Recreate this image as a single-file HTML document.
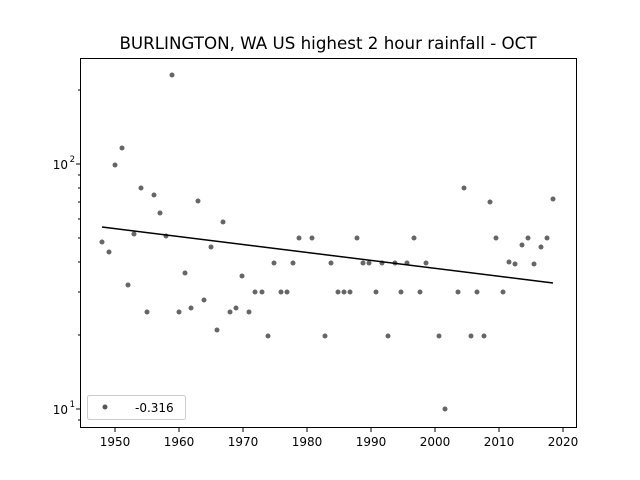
<!DOCTYPE html>
<html><head><meta charset="utf-8"><style>body{margin:0;background:#fff}svg{display:block}text{font-family:"DejaVu Sans","Liberation Sans",sans-serif}</style></head><body>
<svg width="640" height="480" viewBox="0 0 640 480" xmlns="http://www.w3.org/2000/svg">
<rect width="640" height="480" fill="#fff"/>
<text x="328" y="49" font-size="16.7" text-anchor="middle">BURLINGTON, WA US highest 2 hour rainfall - OCT</text>
<g fill="#555" fill-opacity="0.9">
<circle cx="102" cy="242" r="2.5"/><circle cx="109" cy="252" r="2.5"/><circle cx="115" cy="165" r="2.5"/><circle cx="122" cy="148" r="2.5"/><circle cx="128" cy="285" r="2.5"/><circle cx="134" cy="234" r="2.5"/><circle cx="141" cy="188" r="2.5"/><circle cx="147" cy="312" r="2.5"/><circle cx="154" cy="195" r="2.5"/><circle cx="160" cy="213" r="2.5"/><circle cx="166" cy="236" r="2.5"/><circle cx="172" cy="75" r="2.5"/><circle cx="179" cy="312" r="2.5"/><circle cx="185" cy="273" r="2.5"/><circle cx="191" cy="308" r="2.5"/><circle cx="198" cy="201" r="2.5"/><circle cx="204" cy="300" r="2.5"/><circle cx="211" cy="247" r="2.5"/><circle cx="217" cy="330" r="2.5"/><circle cx="223" cy="222" r="2.5"/><circle cx="230" cy="312" r="2.5"/><circle cx="236" cy="308" r="2.5"/><circle cx="242" cy="276" r="2.5"/><circle cx="249" cy="312" r="2.5"/><circle cx="255" cy="292" r="2.5"/><circle cx="262" cy="292" r="2.5"/><circle cx="268" cy="336" r="2.5"/><circle cx="274" cy="263" r="2.5"/><circle cx="281" cy="292" r="2.5"/><circle cx="287" cy="292" r="2.5"/><circle cx="293" cy="263" r="2.5"/><circle cx="299" cy="238" r="2.5"/><circle cx="312" cy="238" r="2.5"/><circle cx="325" cy="336" r="2.5"/><circle cx="331" cy="263" r="2.5"/><circle cx="338" cy="292" r="2.5"/><circle cx="344" cy="292" r="2.5"/><circle cx="350" cy="292" r="2.5"/><circle cx="357" cy="238" r="2.5"/><circle cx="363" cy="263" r="2.5"/><circle cx="369" cy="263" r="2.5"/><circle cx="376" cy="292" r="2.5"/><circle cx="382" cy="263" r="2.5"/><circle cx="388" cy="336" r="2.5"/><circle cx="395" cy="263" r="2.5"/><circle cx="401" cy="292" r="2.5"/><circle cx="407" cy="263" r="2.5"/><circle cx="414" cy="238" r="2.5"/><circle cx="420" cy="292" r="2.5"/><circle cx="426" cy="263" r="2.5"/><circle cx="439" cy="336" r="2.5"/><circle cx="445" cy="409" r="2.5"/><circle cx="458" cy="292" r="2.5"/><circle cx="464" cy="188" r="2.5"/><circle cx="471" cy="336" r="2.5"/><circle cx="477" cy="292" r="2.5"/><circle cx="484" cy="336" r="2.5"/><circle cx="490" cy="202" r="2.5"/><circle cx="496" cy="238" r="2.5"/><circle cx="503" cy="292" r="2.5"/><circle cx="509" cy="262" r="2.5"/><circle cx="515" cy="264" r="2.5"/><circle cx="522" cy="245" r="2.5"/><circle cx="528" cy="238" r="2.5"/><circle cx="534" cy="264" r="2.5"/><circle cx="541" cy="247" r="2.5"/><circle cx="547" cy="238" r="2.5"/><circle cx="553" cy="199" r="2.5"/>
</g>
<line x1="102" y1="227" x2="553" y2="283" stroke="#000" stroke-width="1.5"/>
<rect x="80.5" y="58.5" width="496" height="369" fill="none" stroke="#000" stroke-width="1"/>
<g stroke="#000" stroke-width="1">
<line x1="115" y1="428" x2="115" y2="432"/><line x1="179" y1="428" x2="179" y2="432"/><line x1="243" y1="428" x2="243" y2="432"/><line x1="307" y1="428" x2="307" y2="432"/><line x1="371" y1="428" x2="371" y2="432"/><line x1="435" y1="428" x2="435" y2="432"/><line x1="499" y1="428" x2="499" y2="432"/><line x1="563" y1="428" x2="563" y2="432"/>
<line x1="76" y1="164" x2="80" y2="164"/><line x1="76" y1="409" x2="80" y2="409"/>
<line x1="78" y1="420" x2="80" y2="420"/><line x1="78" y1="335" x2="80" y2="335"/><line x1="78" y1="292" x2="80" y2="292"/><line x1="78" y1="262" x2="80" y2="262"/><line x1="78" y1="238" x2="80" y2="238"/><line x1="78" y1="219" x2="80" y2="219"/><line x1="78" y1="202" x2="80" y2="202"/><line x1="78" y1="188" x2="80" y2="188"/><line x1="78" y1="175" x2="80" y2="175"/><line x1="78" y1="90" x2="80" y2="90"/>
</g>
<g font-size="12" text-anchor="middle">
<text x="115" y="446">1950</text><text x="179" y="446">1960</text><text x="243" y="446">1970</text><text x="307" y="446">1980</text><text x="371" y="446">1990</text><text x="435" y="446">2000</text><text x="499" y="446">2010</text><text x="563" y="446">2020</text>
</g>
<g font-size="12" text-anchor="end">
<text x="68" y="169">10</text><text x="75" y="162" font-size="8.5">2</text>
<text x="68" y="414">10</text><text x="75" y="407" font-size="8.5">1</text>
</g>
<rect x="87.5" y="395.5" width="98" height="24" rx="2" fill="#fff" stroke="#ccc"/>
<circle cx="105" cy="407" r="2.5" fill="#555"/>
<text x="135" y="412" font-size="12">-0.316</text>
</svg>
</body></html>
